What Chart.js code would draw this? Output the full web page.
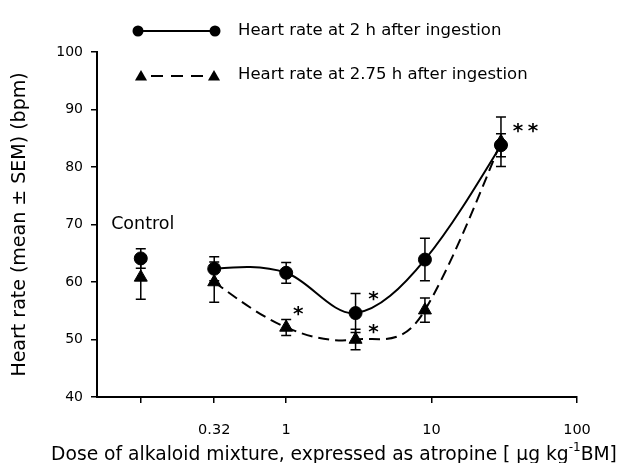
<!DOCTYPE html>
<html><head><meta charset="utf-8">
<script src="https://cdn.jsdelivr.net/npm/chart.js@4"></script>
<style>html,body{margin:0;padding:0;background:#fff}#wrap{width:621px;height:463px}</style>
</head><body><div id="wrap"><canvas id="c" width="621" height="463"></canvas></div>
<script>
// ---- data ----
const doses = [0.32, 1, 3, 9, 30];
const hr2h = [62.3, 61.6, 54.6, 63.9, 83.8];
const sem2h = [2.1, 1.8, 3.4, 3.7, 2.0];
const hr275h = [60.0, 52.1, 50.0, 55.1, 84.4];
const sem275h = [3.5, 1.4, 1.8, 2.1, 4.3];
const controlDose = [0.1];
const control2h = [64.1];
const controlSem2h = [1.7];
const control275h = [60.8];
const controlSem275h = [3.8];
const stars2h = ['', '', '*', '', '**'];
const stars275h = ['', '*', '*', '', ''];
const xTickValues = [0.1, 0.32, 1, 10, 100];
const xTickLabels = ['', '0.32', '1', '10', '100'];
const yTickValues = [40, 50, 60, 70, 80, 90, 100];
const legendLabels = ['Heart rate at 2 h after ingestion', 'Heart rate at 2.75 h after ingestion'];
const controlLabel = 'Control';
const xTitleParts = ['Dose of alkaloid mixture, expressed as atropine [ \u03bcg kg', '-1', 'BM]'];
const yTitle = 'Heart rate (mean \u00b1 SEM) (bpm)';

const FONT = "'DejaVu Sans', Verdana, sans-serif";
const pts = (xs, ys) => xs.map((x, i) => ({ x: x, y: ys[i] }));

function drawTri(ctx, x, y, r) {
  ctx.beginPath();
  ctx.moveTo(x, y - r);
  ctx.lineTo(x + 0.866 * r, y + 0.5 * r);
  ctx.lineTo(x - 0.866 * r, y + 0.5 * r);
  ctx.closePath();
  ctx.fill();
}
function drawCirc(ctx, x, y, r) {
  ctx.beginPath();
  ctx.arc(x, y, r, 0, Math.PI * 2);
  ctx.fill();
}

// smoothing: Hermite spline, length-weighted tangents, natural-type ends,
// applied to the pixel positions computed by the library
const smoothCurve = {
  id: 'smoothCurve',
  beforeDatasetDraw(chart, args) {
    const meta = args.meta;
    const ds = chart.data.datasets[args.index];
    if (!ds.smooth || !meta.dataset) return;
    meta.dataset.updateControlPoints(chart.chartArea, meta.indexAxis);
    const p = meta.data, n = p.length;
    const xs = p.map(e => e.x), ys = p.map(e => e.y);
    const h = [], s = [], L = [];
    for (let i = 0; i < n - 1; i++) {
      h[i] = xs[i + 1] - xs[i];
      s[i] = (ys[i + 1] - ys[i]) / h[i];
      L[i] = Math.hypot(h[i], ys[i + 1] - ys[i]);
    }
    const m = [];
    for (let i = 1; i < n - 1; i++) m[i] = (L[i - 1] * s[i - 1] + L[i] * s[i]) / (L[i - 1] + L[i]);
    m[0] = (3 * s[0] - m[1]) / 2;
    m[n - 1] = (3 * s[n - 2] - m[n - 2]) / 2;
    for (let i = 0; i < n; i++) {
      if (i > 0) { p[i].cp1x = xs[i] - h[i - 1] / 3; p[i].cp1y = ys[i] - m[i] * h[i - 1] / 3; }
      if (i < n - 1) { p[i].cp2x = xs[i] + h[i] / 3; p[i].cp2y = ys[i] + m[i] * h[i] / 3; }
    }
  }
};

const errorBars = {
  id: 'errorBars',
  afterDatasetsDraw(chart) {
    const { ctx, scales: { x, y } } = chart;
    ctx.save();
    ctx.setLineDash([]);
    ctx.strokeStyle = '#000';
    ctx.lineWidth = 1.5;
    chart.data.datasets.forEach(ds => {
      ds.data.forEach((p, i) => {
        const px = x.getPixelForValue(p.x);
        const top = y.getPixelForValue(p.y + ds.sem[i]);
        const bot = y.getPixelForValue(p.y - ds.sem[i]);
        ctx.beginPath();
        ctx.moveTo(px, top); ctx.lineTo(px, bot);
        ctx.moveTo(px - 5, top); ctx.lineTo(px + 5, top);
        ctx.moveTo(px - 5, bot); ctx.lineTo(px + 5, bot);
        ctx.stroke();
      });
    });
    ctx.restore();
  }
};

// star placement offsets (pixels from the marker)
const starOffsets2h = [null, null, [18, -19], null, [17, -19]];
const starOffsets275h = [null, [12, -18], [18, -13], null, null];

const annotations = {
  id: 'annotations',
  afterDraw(chart) {
    const { ctx, scales: { x, y } } = chart;
    ctx.save();
    ctx.fillStyle = '#000';
    ctx.strokeStyle = '#000';
    // legend
    ctx.lineWidth = 2;
    ctx.setLineDash([]);
    ctx.beginPath(); ctx.moveTo(138, 31); ctx.lineTo(215, 31); ctx.stroke();
    drawCirc(ctx, 138, 31, 5.5); drawCirc(ctx, 215, 31, 5.5);
    ctx.setLineDash([12, 8]);
    ctx.beginPath(); ctx.moveTo(151, 76); ctx.lineTo(205, 76); ctx.stroke();
    ctx.setLineDash([]);
    drawTri(ctx, 141, 77, 7); drawTri(ctx, 214, 77, 7);
    ctx.font = '16.5px ' + FONT;
    ctx.textAlign = 'left';
    ctx.textBaseline = 'middle';
    ctx.fillText(legendLabels[0], 238, 31);
    ctx.fillText(legendLabels[1], 238, 75);
    // control label
    ctx.font = '17.5px ' + FONT;
    ctx.textAlign = 'center';
    ctx.fillText(controlLabel, x.getPixelForValue(controlDose[0]) + 2, y.getPixelForValue(control2h[0]) - 34);
    // x axis title with superscript
    ctx.textAlign = 'left';
    ctx.textBaseline = 'alphabetic';
    ctx.font = '18.7px ' + FONT;
    const w0 = ctx.measureText(xTitleParts[0]).width;
    ctx.font = '12px ' + FONT;
    const w1 = ctx.measureText(xTitleParts[1]).width;
    ctx.font = '18.7px ' + FONT;
    const w2 = ctx.measureText(xTitleParts[2]).width;
    const total = w0 + w1 + w2;
    const tx = 334 - total / 2;
    const ty = 460;
    ctx.fillText(xTitleParts[0], tx, ty);
    ctx.font = '12px ' + FONT;
    ctx.fillText(xTitleParts[1], tx + w0, ty - 9);
    ctx.font = '18.7px ' + FONT;
    ctx.fillText(xTitleParts[2], tx + w0 + w1, ty);
    // significance stars
    ctx.font = 'bold 20px ' + FONT;
    ctx.textAlign = 'center';
    const drawStars = (str, off, px, py) => {
      for (let k = 0; k < str.length; k++) ctx.fillText('*', px + off[0] + k * 15, py + off[1] + 11);
    };
    doses.forEach((d, i) => {
      const px = x.getPixelForValue(d);
      if (stars2h[i]) drawStars(stars2h[i], starOffsets2h[i], px, y.getPixelForValue(hr2h[i]));
      if (stars275h[i]) drawStars(stars275h[i], starOffsets275h[i], px, y.getPixelForValue(hr275h[i]));
    });
    ctx.restore();
  }
};

const lineStyle = { borderColor: '#000', backgroundColor: '#000', pointBackgroundColor: '#000', pointBorderColor: '#000', pointBorderWidth: 1, borderWidth: 2, fill: false };

new Chart(document.getElementById('c'), {
  type: 'line',
  data: {
    datasets: [
      Object.assign({ label: legendLabels[0], data: pts(doses, hr2h), sem: sem2h, pointStyle: 'circle', pointRadius: 6.5, tension: 0.4, smooth: true }, lineStyle),
      Object.assign({ label: legendLabels[1], data: pts(doses, hr275h), sem: sem275h, pointStyle: 'triangle', pointRadius: 7.5, tension: 0.4, smooth: true, borderDash: [11, 6] }, lineStyle),
      Object.assign({ label: 'c1', data: pts(controlDose, control2h), sem: controlSem2h, pointStyle: 'circle', pointRadius: 6.5, showLine: false }, lineStyle),
      Object.assign({ label: 'c2', data: pts(controlDose, control275h), sem: controlSem275h, pointStyle: 'triangle', pointRadius: 7.5, showLine: false }, lineStyle)
    ]
  },
  options: {
    responsive: false,
    animation: false,
    layout: { padding: { top: 52, right: 44, left: 0, bottom: 0 } },
    plugins: { legend: { display: false }, tooltip: { enabled: false } },
    scales: {
      x: {
        type: 'logarithmic', min: 0.05, max: 100,
        afterBuildTicks: s => { s.ticks = xTickValues.map(v => ({ value: v })); },
        afterFit: s => { s.height = 66; },
        ticks: { autoSkip: false, maxRotation: 0, padding: 19, color: '#000', font: { family: FONT, size: 14.5 }, callback: (v, i) => xTickLabels[i] },
        grid: { drawOnChartArea: false, drawTicks: true, tickLength: 6, color: '#000', lineWidth: 1.5 },
        border: { color: '#000', width: 2 },
        title: { display: false }
      },
      y: {
        min: 40, max: 100,
        afterBuildTicks: s => { s.ticks = yTickValues.map(v => ({ value: v })); },
        afterFit: s => { s.width = 97; },
        ticks: { padding: 8, color: '#000', font: { family: FONT, size: 14 }, callback: v => String(v) },
        grid: { drawOnChartArea: false, drawTicks: true, tickLength: 6, color: '#000', lineWidth: 1.5 },
        border: { color: '#000', width: 2 },
        title: { display: true, text: yTitle, color: '#000', font: { family: FONT, size: 19 }, padding: { top: 9, bottom: 0 } }
      }
    }
  },
  plugins: [smoothCurve, errorBars, annotations]
});
</script>
</body></html>
